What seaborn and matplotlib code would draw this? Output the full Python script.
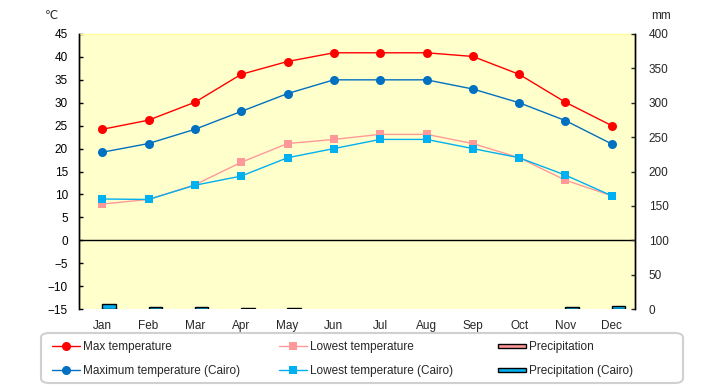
import matplotlib
matplotlib.use("Agg")
import matplotlib.pyplot as plt
import seaborn as sns
import pandas as pd
from matplotlib.patches import Rectangle, FancyBboxPatch
from matplotlib.legend_handler import HandlerPatch

months = ["Jan", "Feb", "Mar", "Apr", "May", "Jun", "Jul", "Aug", "Sep", "Oct", "Nov", "Dec"]
max_temp = [24.2, 26.2, 30.1, 36.2, 39.0, 40.9, 40.9, 40.9, 40.1, 36.2, 30.1, 25.0]
low_temp = [7.9, 8.9, 12.1, 17.0, 21.1, 22.0, 23.1, 23.1, 21.1, 18.0, 13.1, 9.7]
max_cairo = [19.2, 21.1, 24.2, 28.1, 32.0, 35.0, 35.0, 35.0, 33.0, 30.0, 26.1, 21.0]
low_cairo = [9.0, 8.9, 12.0, 14.0, 18.0, 20.0, 22.0, 22.0, 20.0, 18.0, 14.2, 9.7]
precip = [0, 0, 0, 0, 0, 0, 0, 0, 0, 0, 0, 0]
precip_cairo = [7, 3, 3, 1, 1, 0, 0, 0, 0, 0, 3, 4]

sns.set_theme(style="white")
plt.rcParams["font.family"] = ["Liberation Sans Narrow", "Liberation Sans", "DejaVu Sans"]
plt.rcParams["axes.unicode_minus"] = True

fig = plt.figure(figsize=(7.2, 3.85), dpi=100)
ax = fig.add_axes([79 / 720, 1 - 309 / 385, 556 / 720, 275 / 385])
ax.set_facecolor("#FFFFCC")
ax2 = ax.twinx()

pr = pd.DataFrame({
    "Month": months * 2,
    "mm": precip + precip_cairo,
    "Series": ["Precipitation"] * 12 + ["Precipitation (Cairo)"] * 12,
})
sns.barplot(data=pr, x="Month", y="mm", hue="Series", order=months,
            palette={"Precipitation": "#FF9999", "Precipitation (Cairo)": "#00B0F0"},
            saturation=1, width=0.58, edgecolor="black", linewidth=1.0, ax=ax2, legend=True)
bar_h, bar_l = ax2.get_legend_handles_labels()
if ax2.get_legend() is not None:
    ax2.get_legend().remove()
for p in ax2.patches:
    if p.get_height() == 0:
        p.set_linewidth(0)
        p.set_edgecolor("none")
bar_fill = {"Precipitation": "#FF9999", "Precipitation (Cairo)": "#00B0F0"}
for h, l in zip(bar_h, bar_l):
    h.set_facecolor(bar_fill[l])
    h.set_edgecolor("black")
    h.set_linewidth(1.0)

temp = pd.DataFrame({"Month": months, "max": max_temp, "low": low_temp,
                     "maxc": max_cairo, "lowc": low_cairo})
ax.axhline(0, color="black", lw=1.0, zorder=1)
sns.lineplot(data=temp, x="Month", y="max", color="#FF0000", marker="o", markersize=6.5,
             markeredgewidth=0, lw=1.0, label="Max temperature", ax=ax, sort=False)
sns.lineplot(data=temp, x="Month", y="maxc", color="#0070C0", marker="o", markersize=6.5,
             markeredgewidth=0, lw=1.0, label="Maximum temperature (Cairo)", ax=ax, sort=False)
sns.lineplot(data=temp, x="Month", y="low", color="#FF9999", marker="s", markersize=6,
             markeredgewidth=0, lw=1.0, label="Lowest temperature", ax=ax, sort=False)
sns.lineplot(data=temp, x="Month", y="lowc", color="#00B0F0", marker="s", markersize=6,
             markeredgewidth=0, lw=1.0, label="Lowest temperature (Cairo)", ax=ax, sort=False)
line_h, line_l = ax.get_legend_handles_labels()
if ax.get_legend() is not None:
    ax.get_legend().remove()

ax.set_xlim(-0.5, 11.5)
ax.set_ylim(-15, 45)
ax.set_yticks(range(-15, 50, 5))
ax2.set_ylim(0, 400)
ax2.set_yticks(range(0, 450, 50))
ax.set_xlabel("")
ax.set_ylabel("")
ax2.set_xlabel("")
ax2.set_ylabel("")

for a in (ax, ax2):
    for s in ("top", "bottom"):
        a.spines[s].set_visible(False)
    a.spines["left"].set_color("black")
    a.spines["right"].set_color("black")
    a.spines["left"].set_linewidth(1.0)
    a.spines["right"].set_linewidth(1.0)
ax.plot([0, 1], [1, 1], transform=ax.transAxes, color="#FFFF99", lw=1, clip_on=False)

ax.tick_params(axis="y", direction="in", length=3, width=1, labelsize=8.5, pad=8, left=True, colors="black")
ax.tick_params(axis="x", length=0, labelsize=8.5, pad=8)
ax2.tick_params(axis="y", direction="in", length=3, width=1, labelsize=8.5, pad=10, right=True)

fig.text(52 / 720, 1 - 16 / 385, "℃", fontsize=8.5, ha="center", va="center")
fig.text(661 / 720, 1 - 16 / 385, "mm", fontsize=8.5, ha="center", va="center")

# legend frame
frame = FancyBboxPatch((41 / 720, 1 - 383 / 385), 642 / 720, 50 / 385,
                       boxstyle="round,pad=0,rounding_size=0.012",
                       transform=fig.transFigure, facecolor="white",
                       edgecolor="#D0D0D0", linewidth=1.5, zorder=0)
fig.patches.append(frame)


def thin_rect(legend, orig_handle, xdescent, ydescent, width, height, fontsize):
    return Rectangle((-xdescent, -ydescent + height * 0.25), width, height * 0.45)


groups = [
    ([line_h[0], line_h[1]], [line_l[0], line_l[1]], 52),
    ([line_h[2], line_h[3]], [line_l[2], line_l[3]], 279),
    (bar_h, bar_l, 498),
]
yc = 1 - 359 / 385
for hs, ls, x0 in groups:
    lg = fig.legend(hs, ls, loc="center left", bbox_to_anchor=(x0 / 720, yc),
                    ncol=1, fontsize=8.5, frameon=False, handlelength=2.4,
                    handletextpad=0.25, borderaxespad=0, borderpad=0,
                    labelspacing=1.05,
                    handler_map={Rectangle: HandlerPatch(patch_func=thin_rect)})
    lg.set_zorder(2)

fig.savefig("out.png", dpi=100, facecolor="white")
